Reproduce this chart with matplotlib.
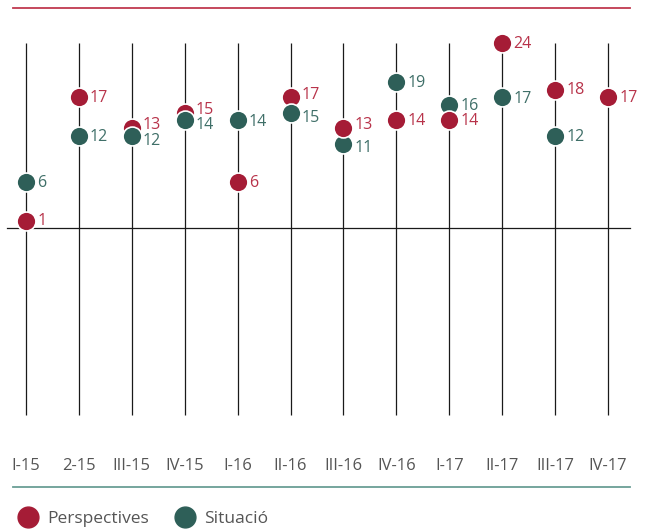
import matplotlib.pyplot as plt
from matplotlib.lines import Line2D

# Quarter labels and the two survey series
quarters = ["I-15", "2-15", "III-15", "IV-15", "I-16", "II-16",
            "III-16", "IV-16", "I-17", "II-17", "III-17", "IV-17"]
perspectives = [1, 17, 13, 15, 6, 17, 13, 14, 14, 24, 18, 17]
situacio = [6, 12, 12, 14, 14, 15, 11, 19, 16, 17, 12, None]

RED = "#a51c36"
RED_TEXT = "#b8334a"
TEAL = "#2e5f58"
TEAL_TEXT = "#3f6f68"
GREY = "#555555"


def main():
    plt.rcParams["font.family"] = ["Open Sans", "DejaVu Sans"]

    fig = plt.figure(figsize=(6.46, 5.32), dpi=100)
    ax = fig.add_axes([13 / 646, 45 / 532, 617 / 646, 479 / 532])
    ax.set_xlim(-0.246, 11.416)
    ax.set_ylim(-33.6, 28.6)

    for side in ["left", "right"]:
        ax.spines[side].set_visible(False)
    ax.spines["top"].set_color("#c0394f")
    ax.spines["top"].set_linewidth(1.3)
    ax.spines["bottom"].set_color("#6a9e95")
    ax.spines["bottom"].set_linewidth(1.3)
    ax.set_xticks([])
    ax.set_yticks([])

    x = list(range(len(quarters)))

    # Vertical guide per quarter and the zero line
    ax.vlines(x, -24.3, 24, color="#1a1a1a", linewidth=0.9, zorder=1)
    ax.plot([-0.36, 11.416], [0, 0], color="#1a1a1a", linewidth=0.9,
            clip_on=False, zorder=1)

    for i in x:
        red, teal = perspectives[i], situacio[i]
        # teal drawn over red in the first quarters, red over teal later
        red_z, teal_z = (3, 4) if i < 6 else (4, 3)
        # push the two labels apart a little when the points nearly touch
        close = teal is not None and abs(red - teal) <= 2
        red_dy = 2.0 if close and red > teal else -0.5
        teal_dy = -3.5 if close and teal < red else -1.0

        ax.scatter(i, red, s=185, color=RED, edgecolor="white",
                   linewidth=1.2, zorder=red_z)
        ax.annotate(str(red), (i, red), xytext=(8, red_dy),
                    textcoords="offset points", va="center", ha="left",
                    fontsize=11.5, color=RED_TEXT, zorder=5)
        if teal is not None:
            ax.scatter(i, teal, s=185, color=TEAL, edgecolor="white",
                       linewidth=1.2, zorder=teal_z)
            ax.annotate(str(teal), (i, teal), xytext=(8, teal_dy),
                        textcoords="offset points", va="center", ha="left",
                        fontsize=11.5, color=TEAL_TEXT, zorder=5)
        ax.text(i, -30.9, quarters[i], ha="center", va="center",
                fontsize=12, color=GREY)

    handles = [
        Line2D([], [], marker="o", linestyle="none", markersize=15,
               markerfacecolor=RED, markeredgecolor=RED, label="Perspectives"),
        Line2D([], [], marker="o", linestyle="none", markersize=15,
               markerfacecolor=TEAL, markeredgecolor=TEAL, label="Situació"),
    ]
    fig.legend(handles=handles, loc="center left",
               bbox_to_anchor=(9 / 646, 1 - 519 / 532), ncol=2, frameon=False,
               handletextpad=0.5, columnspacing=1.45, fontsize=12.5,
               labelcolor=GREY, handlelength=1.2, borderpad=0)

    fig.savefig("out.png", dpi=100)


if __name__ == "__main__":
    main()
